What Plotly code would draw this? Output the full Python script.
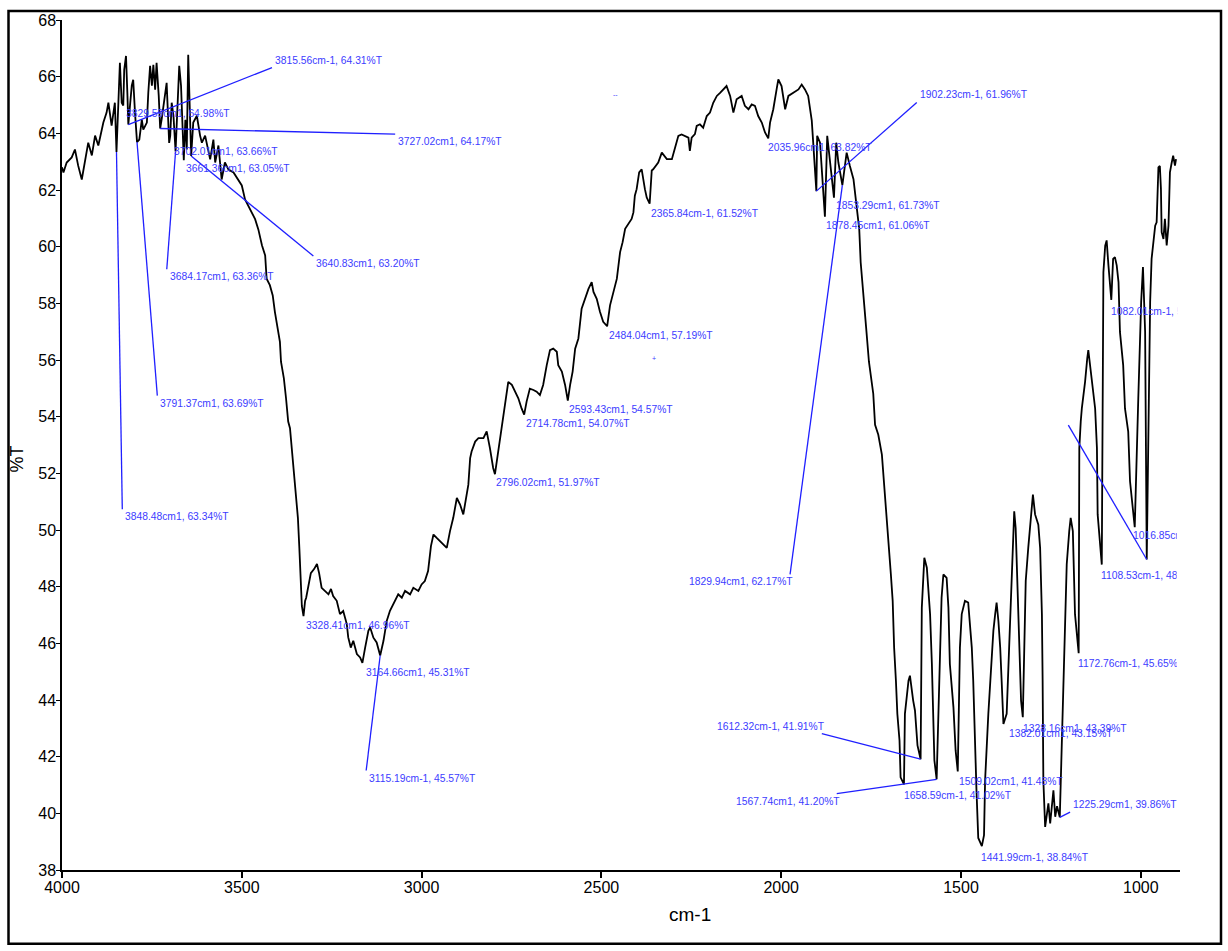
import plotly.graph_objects as go

# ---------------------------------------------------------------------------
# FTIR spectrum: wavenumber (cm-1) against transmittance (%T)
# ---------------------------------------------------------------------------
wavenumber = [
    4000, 3996, 3987, 3973, 3964, 3955, 3945, 3936, 3927, 3917, 3908, 3899, 3889, 3885, 3876, 3871,
    3862, 3853, 3848.48, 3843, 3839, 3834, 3829.59, 3827, 3822, 3818, 3815.56, 3806, 3802, 3797,
    3791.37, 3785, 3778, 3774, 3764, 3760, 3755, 3750, 3746, 3741, 3737, 3731, 3727.02, 3723, 3716,
    3709, 3702.01, 3699, 3695, 3690, 3684.17, 3678, 3674, 3669, 3661.36, 3657, 3653, 3649, 3645,
    3640.83, 3635, 3625, 3616, 3611, 3602, 3593, 3588, 3579, 3574, 3565, 3556, 3547, 3537, 3523,
    3510, 3500, 3491, 3482, 3472, 3463, 3454, 3444, 3435, 3431, 3422, 3414, 3408, 3401, 3394, 3391,
    3383, 3377, 3371, 3366, 3360, 3355, 3349, 3344, 3340, 3337, 3333, 3328.41, 3324, 3321, 3315,
    3308, 3299, 3291, 3285, 3278, 3269, 3259, 3252, 3246, 3236, 3227, 3218, 3208, 3204, 3197, 3190,
    3180, 3171, 3164.66, 3157, 3148, 3143, 3134, 3125, 3115.19, 3106, 3097, 3088, 3074, 3065, 3055,
    3046, 3032, 3023, 3009, 3000, 2991, 2982, 2974, 2967, 2958, 2940, 2930, 2921, 2912, 2902, 2893,
    2884, 2875, 2870, 2865, 2861, 2851, 2842, 2828, 2819, 2810, 2801, 2796.02, 2787, 2777, 2768,
    2759, 2749, 2740, 2731, 2722, 2714.78, 2708, 2699, 2689, 2680, 2671, 2662, 2652, 2643, 2634,
    2624, 2620, 2610, 2601, 2593.43, 2587, 2580, 2573, 2564, 2555, 2546, 2536, 2527, 2522, 2513,
    2504, 2495, 2484.04, 2476, 2467, 2457, 2448, 2441, 2434, 2425, 2416, 2411, 2407, 2402, 2395,
    2388, 2383, 2379, 2374, 2365.84, 2360, 2356, 2342, 2332, 2318, 2304, 2295, 2286, 2277, 2267,
    2258, 2254, 2249, 2240, 2235, 2226, 2217, 2207, 2198, 2189, 2179, 2170, 2161, 2152, 2142, 2133,
    2124, 2110, 2101, 2091, 2082, 2073, 2064, 2054, 2045, 2035.96, 2031, 2022, 2012, 2008, 1999,
    1989, 1980, 1966, 1952, 1943, 1934, 1925, 1915, 1902.23, 1900, 1892, 1878.45, 1872, 1864,
    1853.29, 1847, 1841, 1829.94, 1818, 1809, 1799, 1790, 1783, 1779, 1772, 1764, 1756, 1748, 1744,
    1739, 1730, 1720, 1714, 1707, 1702, 1695, 1690, 1686, 1681, 1677, 1671, 1668, 1658.59, 1656,
    1646, 1642, 1633, 1628, 1621, 1612.32, 1609, 1602, 1595, 1591, 1586, 1581, 1577, 1574, 1567.74,
    1558, 1554, 1549, 1540, 1535, 1531, 1521, 1515, 1509.02, 1503, 1498, 1489, 1480, 1470, 1466,
    1461, 1457, 1452, 1441.99, 1436, 1433, 1424, 1419, 1410, 1405, 1401, 1396, 1391, 1387, 1382.01,
    1373, 1368, 1364, 1359, 1354, 1352, 1348, 1345, 1340, 1336, 1333, 1328.16, 1323, 1320, 1313,
    1306, 1300, 1294, 1285, 1280, 1275, 1273, 1271, 1266, 1257, 1252, 1243, 1238, 1233, 1225.29,
    1220, 1215, 1211, 1206, 1199, 1195, 1189, 1186, 1183, 1172.76, 1171, 1167, 1164, 1155, 1152,
    1149, 1146, 1141, 1136, 1132, 1127, 1122, 1120, 1108.53, 1104, 1099, 1095, 1090, 1082.01, 1077,
    1072, 1067, 1062, 1058, 1049, 1044, 1035, 1030, 1016.85, 1007, 1003, 999, 994, 988, 983.5, 979,
    974, 970, 960, 956, 951, 947, 944, 942, 937, 933, 928, 923, 921, 919, 914, 910, 905, 902,
]
transmittance = [
    62.80, 62.62, 62.97, 63.15, 63.43, 62.86, 62.37, 62.97, 63.67, 63.22, 63.92, 63.57, 64.13, 64.38,
    64.73, 65.08, 64.27, 65.08, 63.34, 65.43, 66.49, 65.08, 64.98, 66.24, 66.73, 65.33, 64.31, 65.68,
    65.89, 64.73, 63.69, 63.78, 64.48, 64.13, 64.38, 65.43, 66.38, 65.68, 66.42, 65.54, 66.49, 65.33,
    64.17, 64.48, 65.08, 65.78, 63.66, 63.92, 65.08, 64.62, 63.36, 65.08, 66.38, 65.68, 63.05, 64.48,
    63.43, 66.77, 65.08, 63.20, 64.38, 64.62, 63.92, 63.67, 63.92, 63.43, 63.08, 63.78, 62.97, 63.57,
    62.37, 62.97, 62.72, 62.62, 62.37, 62.16, 61.67, 61.46, 61.21, 60.97, 60.61, 60.05, 59.69, 58.87,
    58.64, 58.28, 57.70, 57.11, 56.64, 55.94, 55.35, 54.65, 53.83, 53.59, 52.77, 52.07, 51.13, 50.43,
    49.37, 48.20, 47.32, 46.96, 47.50, 47.61, 48.08, 48.48, 48.62, 48.80, 48.48, 47.96, 47.85, 47.73,
    47.92, 47.67, 47.50, 47.03, 47.14, 46.68, 46.21, 45.85, 46.09, 45.62, 45.50, 45.31, 45.85, 46.44,
    46.56, 46.20, 46.03, 45.57, 46.09, 46.79, 47.15, 47.50, 47.73, 47.61, 47.85, 47.73, 47.96, 47.85,
    48.08, 48.20, 48.55, 49.43, 49.84, 49.72, 49.49, 49.37, 49.96, 50.43, 51.13, 50.90, 50.55, 51.25,
    51.60, 52.54, 52.77, 53.12, 53.24, 53.24, 53.48, 52.89, 52.19, 51.97, 52.77, 53.71, 54.53, 55.23,
    55.12, 54.88, 54.65, 54.29, 54.07, 54.53, 54.99, 54.94, 54.88, 54.76, 55.12, 55.82, 56.35, 56.40,
    56.29, 55.82, 55.59, 55.12, 54.57, 55.12, 55.59, 56.40, 56.76, 57.81, 58.16, 58.51, 58.75, 58.40,
    58.16, 57.70, 57.35, 57.19, 57.93, 58.40, 58.87, 59.81, 60.16, 60.63, 60.80, 60.98, 61.21, 61.80,
    62.03, 62.62, 62.73, 62.27, 62.03, 61.74, 61.52, 62.69, 62.73, 62.97, 63.32, 63.09, 63.09, 63.50,
    63.91, 63.96, 63.91, 63.85, 63.38, 63.85, 63.97, 64.26, 64.32, 64.20, 64.61, 64.73, 65.08, 65.32,
    65.43, 65.55, 65.67, 65.32, 64.73, 65.20, 65.32, 64.97, 64.85, 65.02, 64.97, 64.61, 64.38, 64.03,
    63.82, 64.38, 64.85, 65.61, 65.90, 65.67, 64.85, 65.32, 65.43, 65.55, 65.72, 65.55, 65.32, 64.45,
    61.96, 63.91, 63.67, 61.06, 63.91, 62.97, 61.73, 63.67, 62.97, 62.17, 63.32, 62.85, 62.38, 61.39,
    60.62, 59.45, 58.22, 57.17, 55.94, 55.23, 54.81, 53.71, 53.36, 52.66, 51.72, 50.55, 49.61, 48.43,
    47.50, 45.85, 44.68, 43.51, 42.57, 41.27, 41.02, 43.51, 44.68, 44.86, 43.98, 43.63, 42.40, 41.91,
    47.26, 49.02, 48.67, 47.96, 47.03, 45.27, 43.51, 41.87, 41.20, 45.85, 47.61, 48.43, 48.31, 47.26,
    45.27, 43.74, 42.22, 41.48, 45.85, 47.03, 47.50, 47.44, 45.85, 44.68, 42.34, 40.82, 39.13, 38.84,
    39.23, 41.17, 43.51, 44.68, 46.44, 47.03, 47.44, 46.79, 45.85, 44.68, 43.15, 43.51, 45.27, 47.03,
    48.20, 49.96, 50.66, 50.07, 48.79, 47.03, 45.27, 43.98, 43.39, 47.03, 48.20, 49.37, 50.31, 51.25,
    50.55, 50.19, 49.37, 47.03, 44.68, 41.17, 39.52, 40.35, 39.64, 40.81, 39.88, 40.25, 39.86, 42.34,
    44.68, 47.03, 48.79, 49.96, 50.43, 49.96, 48.20, 47.03, 45.65, 52.89, 53.83, 54.29, 55.23, 55.82,
    56.05, 56.35, 55.82, 55.35, 54.99, 54.29, 52.89, 50.55, 48.78, 59.10, 60.04, 60.22, 59.34, 58.12,
    59.57, 59.63, 59.34, 58.75, 56.99, 55.82, 54.29, 53.47, 51.72, 50.10, 54.65, 56.40, 58.05, 59.28,
    56.99, 48.96, 52.77, 58.05, 59.57, 60.74, 60.86, 62.80, 62.85, 62.03, 60.51, 60.27, 60.98, 60.04,
    60.74, 61.68, 62.62, 62.97, 63.21, 62.86, 63.09,
]

# Picked peaks (wavenumber, %T) and the label printed for each
peak_wavenumber = [
    3848.48, 3829.59, 3815.56, 3791.37, 3727.02, 3702.01, 3684.17, 3661.36, 3640.83, 3328.41,
    3164.66, 3115.19, 2796.02, 2714.78, 2593.43, 2484.04, 2365.84, 2035.96, 1902.23, 1878.45,
    1853.29, 1829.94, 1658.59, 1612.32, 1567.74, 1509.02, 1441.99, 1382.01, 1328.16, 1225.29,
    1172.76, 1108.53, 1082.01, 1016.85, 983.5,
]
peak_transmittance = [
    63.34, 64.98, 64.31, 63.69, 64.17, 63.66, 63.36, 63.05, 63.20, 46.96,
    45.31, 45.57, 51.97, 54.07, 54.57, 57.19, 61.52, 63.82, 61.96, 61.06,
    61.73, 62.17, 41.02, 41.91, 41.20, 41.48, 38.84, 43.15, 43.39, 39.86,
    45.65, 48.78, 58.12, 50.10, 48.96,
]
peak_label = [
    "3848.48cm1, 63.34%T", "3829.59cm1, 64.98%T", "3815.56cm-1, 64.31%T", "3791.37cm1, 63.69%T",
    "3727.02cm1, 64.17%T", "3702.01cm1, 63.66%T", "3684.17cm1, 63.36%T", "3661.36cm1, 63.05%T",
    "3640.83cm1, 63.20%T", "3328.41cm1, 46.96%T", "3164.66cm1, 45.31%T", "3115.19cm-1, 45.57%T",
    "2796.02cm1, 51.97%T", "2714.78cm1, 54.07%T", "2593.43cm1, 54.57%T", "2484.04cm1, 57.19%T",
    "2365.84cm-1, 61.52%T", "2035.96cm1, 63.82%T", "1902.23cm-1, 61.96%T", "1878.45cm1, 61.06%T",
    "1853.29cm1, 61.73%T", "1829.94cm1, 62.17%T", "1658.59cm-1, 41.02%T", "1612.32cm-1, 41.91%T",
    "1567.74cm1, 41.20%T", "1509.02cm1, 41.48%T", "1441.99cm-1, 38.84%T", "1382.01cm1, 43.15%T",
    "1328.16cm1, 43.39%T", "1225.29cm1, 39.86%T", "1172.76cm-1, 45.65%T", "1108.53cm-1, 48.78%T",
    "1082.01cm-1, 58.12%T", "1016.85cm-1, 50.10%T", "",
]

x_ticks = [4000, 3500, 3000, 2500, 2000, 1500, 1000]
y_ticks = [38, 40, 42, 44, 46, 48, 50, 52, 54, 56, 58, 60, 62, 64, 66, 68]

# ---------------------------------------------------------------------------
# Page geometry and styling
# ---------------------------------------------------------------------------
W, H = 1228, 951
M_L, M_R, M_T, M_B = 62, 48, 17, 81
X_RANGE = [4000, 891]
Y_RANGE = [38, 68]
PLOT_W = W - M_L - M_R
PLOT_H = H - M_T - M_B
CLIP_PX = 1176  # labels are cut off at the right end of the axis

FONT = "Liberation Sans Narrow, Arial Narrow, Liberation Sans, Arial, sans-serif"
LABEL_BLUE = "#3c3cff"
LEADER_BLUE = "#1f1fff"
LABEL_SIZE = 10.3


def x_px(wn):
    return M_L + (X_RANGE[0] - wn) / (X_RANGE[0] - X_RANGE[1]) * PLOT_W


def to_paper_x(px):
    return (px - M_L) / PLOT_W


def to_paper_y(py):
    return (H - M_B - py) / PLOT_H


# Label placement per peak (pixels, screen y downwards):
#   ("at", dx, dy)                        -> text sits just below-right of the peak
#   ("lead", ex, ey, xanchor, yanchor)    -> leader line to (ex, ey), text at its end
placement = [
    ("lead", 5.8, 357.2, "left", "top"),
    ("at", 1.5, 8),
    ("lead", 143.7, -57.0, "left", "bottom"),
    ("lead", 20.3, 253.5, "left", "top"),
    ("lead", 235.0, 5.6, "left", "top"),
    ("at", 3.5, 9),
    ("lead", -8.8, 117.8, "left", "top"),
    ("at", 1.5, 8),
    ("lead", 122.2, 100.0, "left", "top"),
    ("at", 1.5, 9),
    ("at", 3.0, 10),
    ("lead", -14.0, 115.0, "left", "top"),
    ("at", 0.5, 8.5),
    ("at", 1.0, 9),
    ("at", 0.5, 9),
    ("at", 1.0, 9),
    ("at", 0.5, 9.5),
    ("at", -1.0, 9),
    ("lead", 100.4, -88.7, "left", "bottom"),
    ("at", 0.5, 9),
    ("at", 1.0, 8),
    ("lead", -52.3, 389.2, "right", "top"),
    ("at", -1.0, 11),
    ("lead", -98.8, -25.5, "right", "bottom"),
    ("lead", -99.9, 14.3, "right", "top"),
    ("at", 0.5, 10),
    ("at", -1.5, 11),
    ("at", 4.5, 9.5),
    ("at", -0.5, 11),
    ("lead", 10.3, -5.1, "left", "bottom"),
    ("at", -1.5, 10.5),
    ("at", -1.5, 11),
    ("at", -1.5, 12),
    ("at", -2.5, 8.5),
    ("lead", -78.4, -134.3, "right", "bottom"),
]

fig = go.Figure()

fig.add_trace(go.Scatter(
    x=wavenumber, y=transmittance, mode="lines",
    line=dict(color="black", width=1.8),
    hoverinfo="skip", showlegend=False,
))

annotations = []
shapes = []
label_font = dict(family=FONT, size=LABEL_SIZE, color=LABEL_BLUE)

for wn, t, text, place in zip(peak_wavenumber, peak_transmittance, peak_label, placement):
    if place[0] == "lead":
        _, ex, ey, xa, ya = place
        shapes.append(dict(
            type="line", xref="x", yref="y",
            xsizemode="pixel", ysizemode="pixel",
            xanchor=wn, yanchor=t,
            x0=0, y0=0, x1=ex, y1=-ey,
            line=dict(color=LEADER_BLUE, width=1.3),
        ))
        tx = ex + (2 if xa == "left" else 4)
        ty = ey + (1 if ya == "top" else -1)
        yanchor = ya
    else:
        _, tx, ty = place
        xa, yanchor = "left", "middle"
    if not text:
        continue
    ann = dict(
        x=wn, y=t, xref="x", yref="y", text=text, showarrow=False,
        xanchor=xa, yanchor=yanchor, xshift=tx, yshift=-ty,
        font=label_font, align="left", borderpad=0,
    )
    left = x_px(wn) + tx
    if xa == "left" and left + 104 > CLIP_PX:
        ann["width"] = CLIP_PX - left
    annotations.append(ann)

# stray cursor marks on the plot
annotations.append(dict(x=to_paper_x(615), y=to_paper_y(86), xref="paper", yref="paper",
                        text="--", showarrow=False, font=dict(family=FONT, size=7, color=LABEL_BLUE)))
annotations.append(dict(x=to_paper_x(654), y=to_paper_y(357), xref="paper", yref="paper",
                        text="+", showarrow=False, font=dict(family=FONT, size=7, color=LABEL_BLUE)))

# axis titles
annotations.append(dict(x=to_paper_x(690), y=to_paper_y(915), xref="paper", yref="paper",
                        text="cm-1", showarrow=False, xanchor="center", yanchor="middle",
                        font=dict(family=FONT, size=19, color="black")))
annotations.append(dict(x=to_paper_x(17), y=to_paper_y(458), xref="paper", yref="paper",
                        text="%T", textangle=-90, showarrow=False, xanchor="center", yanchor="middle",
                        font=dict(family=FONT, size=18, color="black")))

# outer frame around the whole figure
shapes.append(dict(
    type="rect", xref="paper", yref="paper",
    x0=to_paper_x(8.5), x1=to_paper_x(1221), y0=to_paper_y(944), y1=to_paper_y(8),
    line=dict(color="black", width=2.5), fillcolor="rgba(0,0,0,0)", layer="above",
))

fig.update_layout(
    width=W, height=H, autosize=False,
    margin=dict(l=M_L, r=M_R, t=M_T, b=M_B, pad=0),
    paper_bgcolor="white", plot_bgcolor="white",
    showlegend=False,
    annotations=annotations,
    shapes=shapes,
    font=dict(family=FONT, color="black"),
)

fig.update_xaxes(
    range=X_RANGE, tickvals=x_ticks, ticktext=[str(v) for v in x_ticks],
    showgrid=False, zeroline=False, showline=True, linecolor="black", linewidth=2,
    ticks="outside", ticklen=6, tickwidth=1.5, tickcolor="black",
    ticklabelstandoff=-4,
    tickfont=dict(family=FONT, size=16, color="black"),
)
fig.update_yaxes(
    range=Y_RANGE, tickvals=y_ticks, ticktext=[str(v) for v in y_ticks],
    showgrid=False, zeroline=False, showline=True, linecolor="black", linewidth=1.5,
    ticks="outside", ticklen=4, tickwidth=1.2, tickcolor="black",
    ticklabelstandoff=-3,
    tickfont=dict(family=FONT, size=16, color="black"),
)

fig.write_html("out.html", post_script="document.body.style.margin='0';")
